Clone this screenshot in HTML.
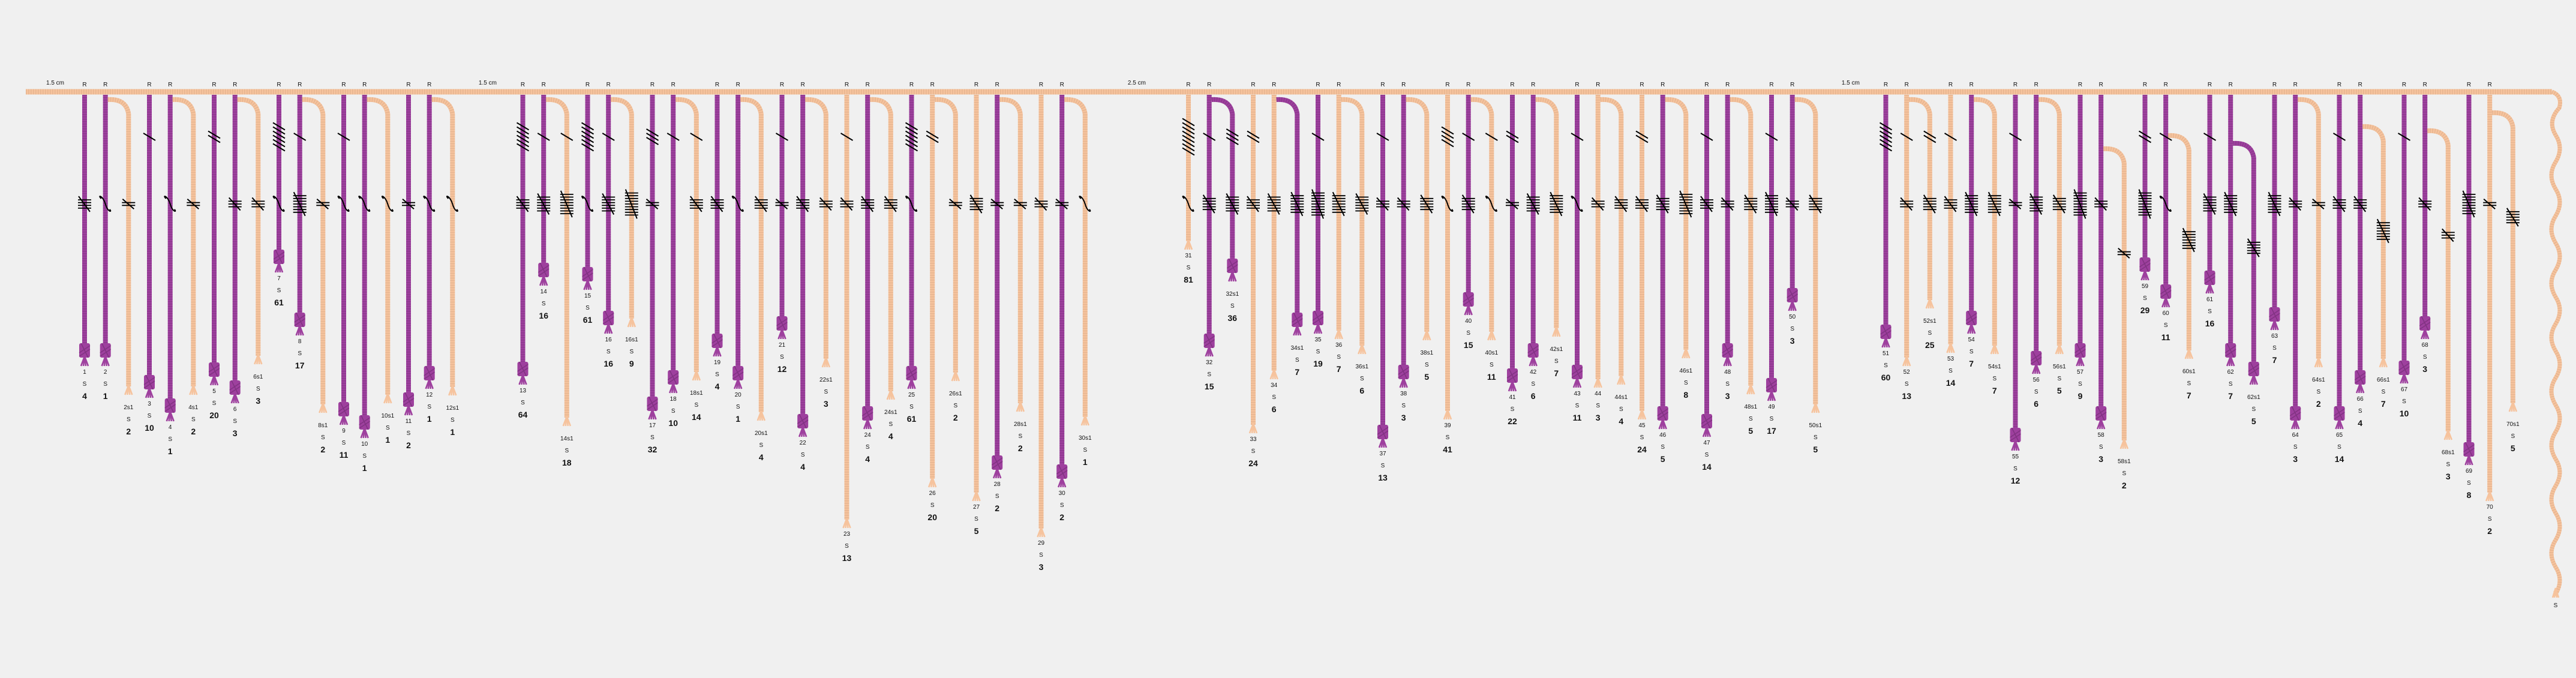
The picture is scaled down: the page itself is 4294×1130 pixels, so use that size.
<!DOCTYPE html>
<html><head><meta charset="utf-8"><title>Khipu diagram</title>
<style>
html,body{margin:0;padding:0;background:#f0f0f0;}
svg{display:block;font-family:"Liberation Sans",sans-serif;}
</style></head>
<body>
<svg id="khipu" xmlns="http://www.w3.org/2000/svg" width="4294" height="1130" viewBox="0 0 4294 1130"></svg>
<script>
const cordIds = ['1','2','2s1','3','4','4s1','5','6','6s1','7','8','8s1','9','10','10s1','11','12','12s1',
'13','14','14s1','15','16','16s1','17','18','18s1','19','20','20s1','21','22','22s1','23','24','24s1','25','26','26s1','27','28','28s1','29','30','30s1',
'31','32','32s1','33','34','34s1','35','36','36s1','37','38','38s1','39','40','40s1','41','42','42s1','43','44','44s1','45','46','46s1','47','48','48s1','49','50','50s1',
'51','52','52s1','53','54','54s1','55','56','56s1','57','58','58s1','59','60','60s1','61','62','62s1','63','64','64s1','65','66','66s1','67','68','68s1','69','70','70s1'];
const cordValues = [4,1,2,10,1,2,20,3,3,61,17,2,11,1,1,2,1,1,
64,16,18,61,16,9,32,10,14,4,1,4,12,4,3,13,4,4,61,20,2,5,2,2,3,2,1,
81,15,36,24,6,7,19,7,6,13,3,5,41,15,11,22,6,7,11,3,4,24,5,8,14,3,5,17,3,5,
60,13,25,14,7,7,12,6,5,9,3,2,29,11,7,16,7,5,7,3,2,14,4,7,10,3,3,8,2,5];
const cordEnds = [610,610,658,663,702,658,642,672,607,454,559,688,708,730,672,692,648,659,
641,476,710,483,556,545,699,655,634,594,648,701,565,728,612,880,715,666,648,812,635,835,797,686,895,812,709,
416,594,469,722,632,559,556,565,590,746,646,567,699,525,567,652,610,561,646,646,641,699,715,597,728,610,657,668,518,688,
579,610,514,588,556,590,751,623,590,610,715,748,467,512,598,489,610,641,550,715,612,715,655,612,639,565,733,775,835,686];
const cordColors = ['P','P','T','P','P','T','P','P','T','P','P','T','P','P','T','P','P','T',
'P','P','T','P','P','T','P','P','T','P','P','T','P','P','T','T','P','T','P','T','T','T','P','T','T','P','T',
'T','P','P','T','T','P','P','T','T','P','P','T','T','P','T','P','P','T','P','T','T','T','P','T','P','P','T','P','P','T',
'P','T','T','T','P','T','P','P','T','P','P','T','P','P','T','P','P','P','P','P','T','P','P','T','P','P','T','P','T','T'];
const groupGapsCm = {'13':'1.5','31':'2.5','51':'1.5'};
const lowAttach = {'58s1':248,'60s1':226,'62s1':239,'66s1':211,'68s1':218,'70s1':188};

const NS='http://www.w3.org/2000/svg';
const svg=document.getElementById('khipu');
const COL={P:'#9e409e',T:'#f6c39d'};
const DARK={P:'#6e2a70',T:'#c99a78'};
const TOPY=153, CORDTOP=158;
function mk(tag,attrs,parent){const e=document.createElementNS(NS,tag);for(const k in attrs)e.setAttribute(k,attrs[k]);(parent||svg).appendChild(e);return e;}
function rope(d,c,w,parent){
  const g=mk('g',{},parent);
  mk('path',{d:d,fill:'none',stroke:COL[c],'stroke-width':w,'stroke-linejoin':'round'},g);
  mk('path',{d:d,fill:'none',stroke:DARK[c],'stroke-width':w,'stroke-dasharray':'1.5 2.5','stroke-opacity':0.35},g);
  return g;
}
function txt(x,y,s,size,bold,parent){const t=mk('text',{x:x,y:y,'text-anchor':'middle','font-size':size,'font-weight':bold?'bold':'normal',fill:'#111'},parent);t.textContent=s;return t;}

// x positions from ordering
const xs=[]; let cx=141;
for(let i=0;i<cordIds.length;i++){
  const id=cordIds[i];
  if(i>0){
    if(groupGapsCm[id]) cx+=34.7+55*parseFloat(groupGapsCm[id]);
    else cx+= id.includes('s')?38.6:34.7;
  }
  xs.push(cx);
}
// top cord
const topCord=rope('M43,'+TOPY+' L4254,'+TOPY,'T',9);


const s0=txt(92,141,'1.5 cm',10,false);


for(const id in groupGapsCm){
  const i=cordIds.indexOf(id);
  const gx=(xs[i-1]+xs[i])/2;
  const t=txt(gx,141,groupGapsCm[id]+' cm',10,false);
  
  
}
// end wavy cord
let wd='M4254,'+TOPY+' Q4272,160 4266,180';
let wy=180, side=-1;
while(wy<960){wd+=' Q'+(4260+side*14)+','+(wy+22)+' '+4260+','+(wy+45);wy+=45;side=-side;}
wd+=' L4260,985';
const wave=rope(wd,'T',7);


const wt=mk('g',{});
for(const dx of [-5,-2,2,5]) mk('line',{x1:4260,y1:980,x2:4260+dx,y2:996,stroke:COL.T,'stroke-width':2.5},wt);


const ws=txt(4260,1012,'S',10,false);



function drawKnots(g,x,val,shift){
  const tens=Math.floor(val/10), units=val%10;
  const ty=228+shift, uy=340+shift;
  for(let k=0;k<tens;k++){
    const y=ty-(tens-1)*3.5+k*7;
    const l=mk('line',{x1:x-10,y1:y-6,x2:x+10,y2:y+6,stroke:'#000','stroke-width':2},g);
    
    
  }
  if(units===1){
    const p=mk('path',{d:'M'+(x-7)+','+(uy-9)+' C'+(x-14)+','+(uy-16)+' '+(x-4)+','+(uy-14)+' '+x+','+uy+' C'+(x+4)+','+(uy+14)+' '+(x+12)+','+(uy+14)+' '+(x+7)+','+(uy+9),fill:'none',stroke:'#000','stroke-width':2},g);
    
    
  } else if(units>1){
    const kg=mk('g',{},g);
    const h=(units-1)*4.6;
    for(let k=0;k<units;k++){
      const y=uy-h/2+k*4.6;
      mk('line',{x1:x-11,y1:y,x2:x+11,y2:y,stroke:'#000','stroke-width':1.8},kg);
    }
    mk('line',{x1:x-10,y1:uy-h/2-6,x2:x+9,y2:uy+h/2+6,stroke:'#000','stroke-width':2},kg);
    
    
  }
}

let parentX=0;
for(let i=0;i<cordIds.length;i++){
  const id=cordIds[i], x=xs[i], c=cordColors[i], end=cordEnds[i], val=cordValues[i];
  const sub=id.includes('s');
  const g=mk('g',{});
  
  
  let d, shift=0;
  if(!sub){
    parentX=x;
    d='M'+x+','+CORDTOP+' L'+x+','+(end-14);
    const r=txt(x,144,'R',10,false,g);
    
    
  } else {
    const a=lowAttach[id]||166;
    shift=a-166;
    d='M'+(parentX+4)+','+a+' Q'+(x-4)+','+(a-2)+' '+x+','+(a+24)+' L'+x+','+(end-14);
  }
  rope(d,c,8,g);
  // end: knot bundle for purple, tassel
  const tg=mk('g',{},g);
  for(const dx of [-6,-2,2,6]) mk('line',{x1:x,y1:end-16,x2:x+dx,y2:end,stroke:COL[c],'stroke-width':2.6},tg);
  if(c==='P'){
    mk('rect',{x:x-9,y:end-38,width:18,height:24,rx:3,fill:COL.P},tg);
    mk('path',{d:'M'+(x-9)+','+(end-22)+' L'+(x+9)+','+(end-34)+' M'+(x-9)+','+(end-16)+' L'+(x+9)+','+(end-28)+' M'+(x-6)+','+(end-38)+' L'+(x+6)+','+(end-14),stroke:DARK.P,'stroke-width':1.5,'stroke-opacity':0.6,fill:'none'},tg);
  }
  
  
  drawKnots(g,x,val,shift);
  const lo=sub?11:0;
  const t1=txt(x,end+13+lo,id,10,false,g);
  
  
  const t2=txt(x,end+33+lo,'S',10,false,g);
  
  
  const t3=txt(x,end+55+lo,String(val),14,true,g);
  
  
}
</script>
</body></html>
